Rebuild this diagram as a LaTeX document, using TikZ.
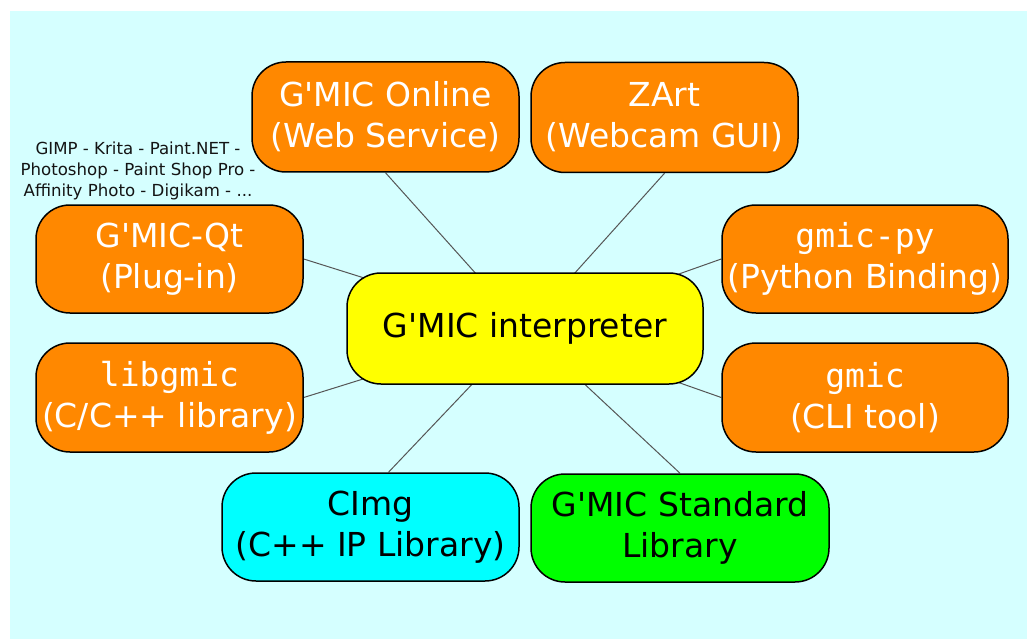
\documentclass[tikz,border=0pt]{standalone}
\usepackage{fontspec}
\setmainfont{DejaVu Sans}[Ligatures=TeXOff]
\newfontfamily\gmono{DejaVu Sans Mono}
\usetikzlibrary{backgrounds}
\definecolor{bgcyan}{RGB}{213,255,255}
\definecolor{orangebox}{RGB}{255,136,0}
\definecolor{yellowbox}{RGB}{255,255,0}
\definecolor{cyanbox}{RGB}{0,255,255}
\definecolor{greenbox}{RGB}{0,255,0}
\definecolor{linkgray}{RGB}{85,85,85}
\definecolor{notegray}{RGB}{20,20,20}
\tikzset{
  gbox/.style={draw=black, line width=1.5pt, rounded corners=34pt, align=center,
    inner sep=0pt, font=\fontsize{33}{41}\selectfont},
  orangenode/.style={gbox, fill=orangebox, text=white, minimum width=267pt, minimum height=110pt},
  link/.style={draw=linkgray, line width=1pt},
  note/.style={align=center, text=notegray, font=\fontsize{16.6}{21}\selectfont, inner sep=0pt}
}
\begin{document}
\begin{tikzpicture}[x=1pt, y=-1pt]
\useasboundingbox (0,0) rectangle (1027,639);
\node[gbox, fill=yellowbox, text=black, minimum width=356pt, minimum height=111pt] (center) at (525,328.5) {G'MIC interpreter};
\node[orangenode] (online) at (385.5,117) {G'MIC Online\\(Web Service)};
\node[orangenode] (zart) at (664.5,117.5) {ZArt\\(Webcam GUI)};
\node[orangenode, minimum height=108pt] (qt) at (169.5,259) {G'MIC-Qt\\(Plug-in)};
\node[orangenode, minimum height=109pt] (libgmic) at (169.5,397.5) {{\gmono libgmic}\\(C/C++ library)};
\node[orangenode, minimum width=286pt, minimum height=108pt] (gmicpy) at (865,259) {{\gmono gmic-py}\\(Python Binding)};
\node[orangenode, minimum width=286pt, minimum height=109pt] (gmic) at (865,397.5) {{\gmono gmic}\\(CLI tool)};
\node[gbox, fill=cyanbox, text=black, minimum width=297pt, minimum height=108pt] (cimg) at (370.5,527) {CImg\\(C++ IP Library)};
\node[gbox, fill=greenbox, text=black, minimum width=298pt, minimum height=108pt] (gsl) at (680,528) {G'MIC Standard\\Library};
\node[note] (hosts) at (138,171) {GIMP - Krita - Paint.NET -\\Photoshop - Paint Shop Pro -\\Affinity Photo - Digikam - ...};
\begin{pgfonlayer}{background}
\fill[white] (0,0) rectangle (1027,639);
\fill[bgcyan] (10,11) rectangle (1027,639);
\draw[link] (online.south) -- (center.center);
\draw[link] (zart.south) -- (center.center);
\draw[link] (qt.east) -- (center.center);
\draw[link] (libgmic.east) -- (center.center);
\draw[link] (gmicpy.west) -- (center.center);
\draw[link] (gmic.west) -- (center.center);
\draw[link] ([xshift=18pt]cimg.north) -- (center.center);
\draw[link] (gsl.north) -- (center.center);
\end{pgfonlayer}
\end{tikzpicture}
\end{document}
